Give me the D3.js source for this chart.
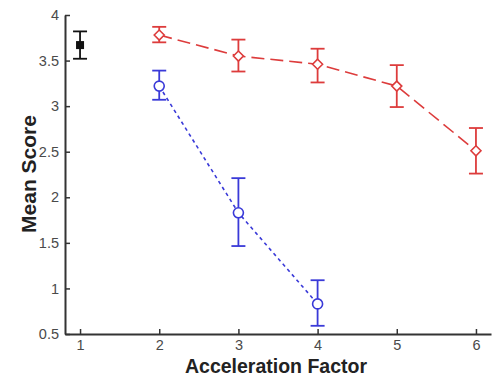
<!DOCTYPE html>
<html>
<head>
<meta charset="utf-8">
<script src="https://cdn.jsdelivr.net/npm/d3@7"></script>
<style>
  body { margin: 0; background: #fff; }
  svg { display: block; }
</style>
</head>
<body>
<div id="chart"></div>
<script>
// reference point (no acceleration)
const refX = [1];
const refMean = [3.67];
const refLow = [3.52];
const refHigh = [3.82];

// red series, dashed with diamonds
const redX = [2, 3, 4, 5, 6];
const redMean = [3.78, 3.55, 3.46, 3.22, 2.51];
const redLow = [3.70, 3.38, 3.26, 2.99, 2.26];
const redHigh = [3.87, 3.73, 3.63, 3.45, 2.76];

// blue series, dotted with circles
const blueX = [2, 3, 4];
const blueMean = [3.22, 1.83, 0.83];
const blueLow = [3.07, 1.465, 0.59];
const blueHigh = [3.39, 2.21, 1.09];

const xTicks = [1, 2, 3, 4, 5, 6];
const yTicks = [0.5, 1, 1.5, 2, 2.5, 3, 3.5, 4];

const width = 496, height = 376;
const plotLeft = 65, plotRight = 491, plotTop = 15, plotBottom = 334;

const svg = d3.select("#chart").append("svg")
    .attr("width", width)
    .attr("height", height);

const x = d3.scaleLinear().domain([0.81, 6.19]).range([plotLeft, plotRight]);
const y = d3.scaleLinear().domain([0.5, 4]).range([plotBottom, plotTop]);

const axisColor = "#333";

// axes, MATLAB style ticks pointing in
const xAxis = svg.append("g")
    .attr("transform", "translate(0," + plotBottom + ")")
    .call(d3.axisBottom(x).tickValues(xTicks).tickSizeInner(-5).tickSizeOuter(0).tickPadding(6).tickFormat(d3.format("d")));
const yAxis = svg.append("g")
    .attr("transform", "translate(" + plotLeft + ",0)")
    .call(d3.axisLeft(y).tickValues(yTicks).tickSizeInner(-5).tickSizeOuter(0).tickPadding(6).tickFormat(d => d));

[xAxis, yAxis].forEach(g => {
    g.select(".domain").attr("stroke", axisColor).attr("stroke-width", 2);
    g.selectAll(".tick line").attr("stroke", axisColor).attr("stroke-width", 1.5);
    g.selectAll(".tick text")
        .attr("fill", "#4a4a4a")
        .style("font-family", "Liberation Sans, Arial, sans-serif")
        .style("font-size", "14.5px");
});

svg.append("text")
    .attr("x", 276)
    .attr("y", 373)
    .attr("text-anchor", "middle")
    .style("font-family", "Liberation Sans, Arial, sans-serif")
    .style("font-size", "19.5px")
    .style("font-weight", "bold")
    .attr("fill", "#222")
    .text("Acceleration Factor");

svg.append("text")
    .attr("transform", "translate(36,174) rotate(-90)")
    .attr("text-anchor", "middle")
    .style("font-family", "Liberation Sans, Arial, sans-serif")
    .style("font-size", "21px")
    .style("font-weight", "bold")
    .attr("fill", "#222")
    .text("Mean Score");

function drawSeries(xs, mean, low, high, color, dash, marker) {
    const pts = xs.map((d, i) => ({ x: d, m: mean[i], lo: low[i], hi: high[i] }));
    const g = svg.append("g");

    if (pts.length > 1) {
        g.append("path")
            .datum(pts)
            .attr("fill", "none")
            .attr("stroke", color)
            .attr("stroke-width", 1.6)
            .attr("stroke-dasharray", dash)
            .attr("d", d3.line().x(d => x(d.x)).y(d => y(d.m)));
    }

    const cap = 7;
    const eb = g.selectAll(".eb").data(pts).enter().append("g");
    eb.append("line")
        .attr("x1", d => x(d.x)).attr("x2", d => x(d.x))
        .attr("y1", d => y(d.lo)).attr("y2", d => y(d.hi))
        .attr("stroke", color).attr("stroke-width", 1.8);
    eb.append("line")
        .attr("x1", d => x(d.x) - cap).attr("x2", d => x(d.x) + cap)
        .attr("y1", d => y(d.hi)).attr("y2", d => y(d.hi))
        .attr("stroke", color).attr("stroke-width", 1.8);
    eb.append("line")
        .attr("x1", d => x(d.x) - cap).attr("x2", d => x(d.x) + cap)
        .attr("y1", d => y(d.lo)).attr("y2", d => y(d.lo))
        .attr("stroke", color).attr("stroke-width", 1.8);

    if (marker === "diamond") {
        eb.append("path")
            .attr("d", d => {
                const cx = x(d.x), cy = y(d.m), r = 5;
                return "M" + cx + "," + (cy - r) + "L" + (cx + r) + "," + cy + "L" + cx + "," + (cy + r) + "L" + (cx - r) + "," + cy + "Z";
            })
            .attr("fill", "#fff").attr("stroke", color).attr("stroke-width", 1.6);
    } else if (marker === "circle") {
        eb.append("circle")
            .attr("cx", d => x(d.x)).attr("cy", d => y(d.m)).attr("r", 5)
            .attr("fill", "#fff").attr("stroke", color).attr("stroke-width", 1.6);
    } else {
        eb.append("rect")
            .attr("x", d => x(d.x) - 4).attr("y", d => y(d.m) - 4)
            .attr("width", 8).attr("height", 8)
            .attr("fill", color);
    }
}

drawSeries(redX, redMean, redLow, redHigh, "#dd3c3c", "13,6", "diamond");
drawSeries(blueX, blueMean, blueLow, blueHigh, "#3a3ad8", "3.5,3.5", "circle");
drawSeries(refX, refMean, refLow, refHigh, "#111", null, "square");
</script>
</body>
</html>
